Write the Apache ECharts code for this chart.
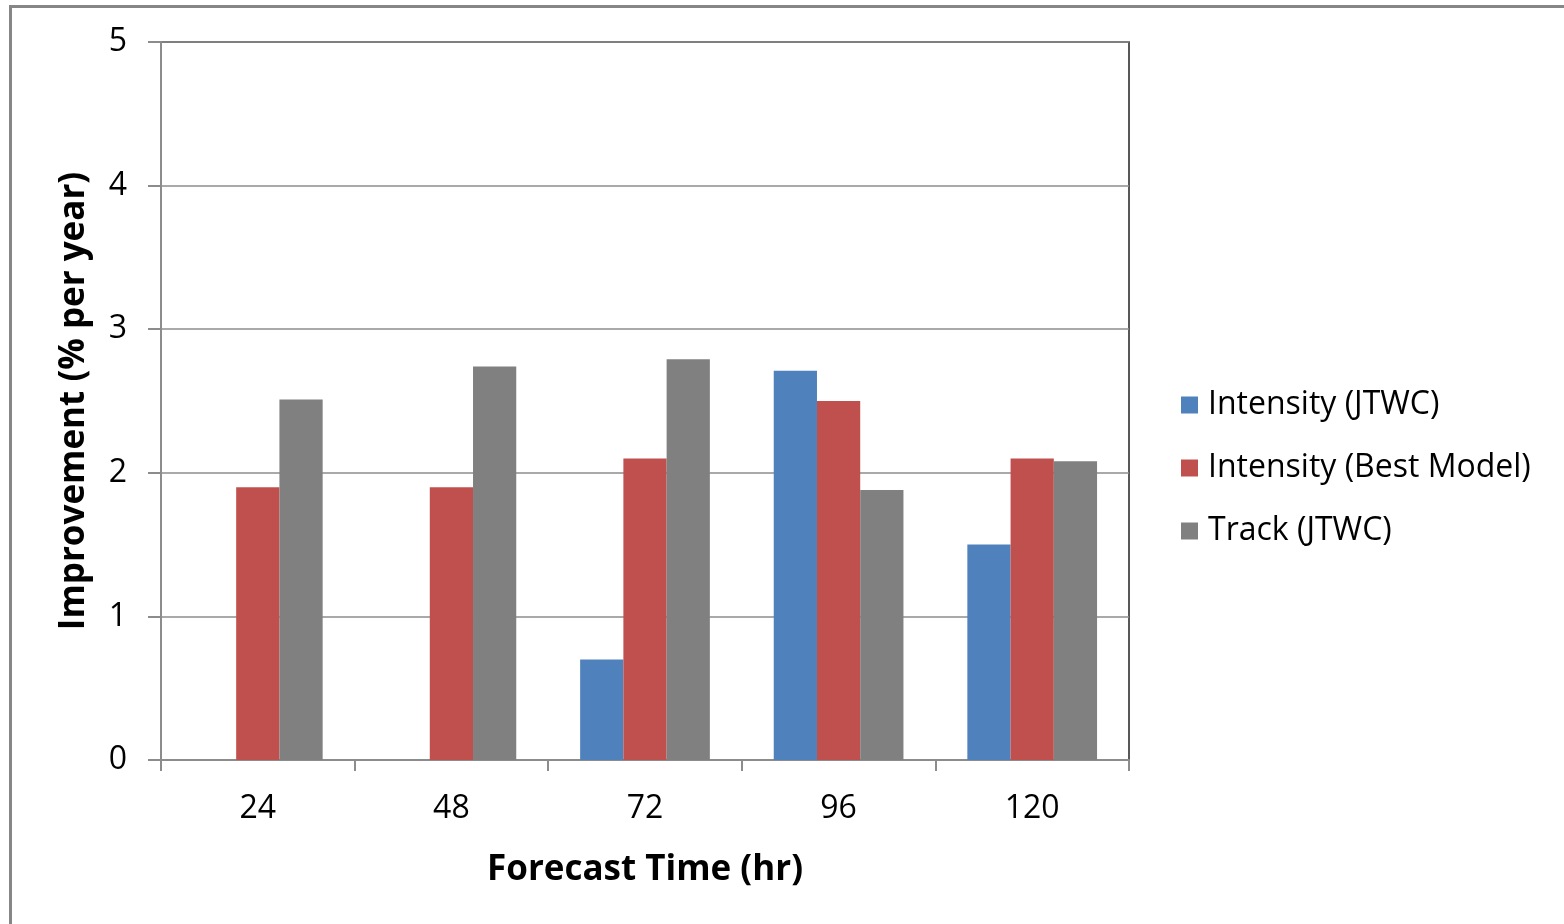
<!DOCTYPE html>
<html>
<head>
<meta charset="utf-8">
<script src="https://cdn.jsdelivr.net/npm/echarts@6/dist/echarts.min.js"></script>
<style>html,body{margin:0;padding:0;background:#fff;}#c{width:1564px;height:924px;}</style>
</head>
<body>
<div id="c"></div>
<script>
const categories = ['24', '48', '72', '96', '120'];
const intensityJTWC = [-0.015, 0, 0.7, 2.71, 1.5];
const intensityBest = [1.9, 1.9, 2.1, 2.5, 2.1];
const trackJTWC = [2.51, 2.74, 2.79, 1.88, 2.08];
const yTicks = [0, 1, 2, 3, 4, 5];

const font = 'Open Sans, Liberation Sans, sans-serif';
const chart = echarts.init(document.getElementById('c'), null, {renderer: 'canvas'});
chart.setOption({
  animation: false,
  backgroundColor: '#fff',
  graphic: [{
    type: 'rect', left: 8, top: 4, shape: {width: 1700, height: 1000},
    style: {fill: 'none', stroke: '#868686', lineWidth: 3}, silent: true, z: -1
  }],
  grid: {left: 161, right: 435, top: 42, bottom: 164, show: true, borderColor: '#222', borderWidth: 1.5, backgroundColor: 'transparent'},
  legend: {
    orient: 'vertical', left: 1176, top: 384,
    itemWidth: 17, itemHeight: 17, itemGap: 31,
    icon: 'rect',
    textStyle: {fontFamily: font, fontSize: 32, color: '#000', lineHeight: 32, padding: [0, 0, 0, 5]},
    data: ['Intensity (JTWC)', 'Intensity (Best Model)', 'Track (JTWC)']
  },
  xAxis: {
    type: 'category', data: categories,
    name: 'Forecast Time (hr)', nameLocation: 'middle', nameGap: 93,
    nameTextStyle: {fontFamily: font, fontSize: 35, fontWeight: 'bold', color: '#000'},
    axisLine: {lineStyle: {color: '#8c8c8c', width: 2}},
    axisTick: {show: true, length: 11, lineStyle: {color: '#8c8c8c', width: 2}},
    axisLabel: {fontFamily: font, fontSize: 32, color: '#000', margin: 33},
    splitLine: {show: false}
  },
  yAxis: {
    type: 'value', min: 0, max: 5, interval: 1,
    name: 'Improvement (% per year)', nameLocation: 'middle', nameGap: 69,
    nameTextStyle: {fontFamily: font, fontSize: 35, fontWeight: 'bold', color: '#000'},
    axisLine: {show: true, lineStyle: {color: '#8c8c8c', width: 2}},
    axisTick: {show: true, length: 13, lineStyle: {color: '#8c8c8c', width: 2}},
    axisLabel: {fontFamily: font, fontSize: 32, color: '#000', margin: 34,
      formatter: v => yTicks.includes(v) ? String(v) : ''},
    splitLine: {show: true, lineStyle: {color: '#8c8c8c', width: 1.5}}
  },
  series: [
    {name: 'Intensity (JTWC)', type: 'bar', data: intensityJTWC, itemStyle: {color: '#4f81bd'}, barGap: '0%', barCategoryGap: '33%'},
    {name: 'Intensity (Best Model)', type: 'bar', data: intensityBest, itemStyle: {color: '#c0504d'}},
    {name: 'Track (JTWC)', type: 'bar', data: trackJTWC, itemStyle: {color: '#808080'}}
  ]
});
</script>
</body>
</html>
